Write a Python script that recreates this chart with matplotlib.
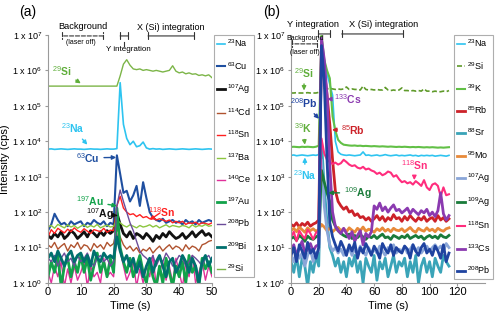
"""
Laser ablation ICP-MS time-resolved signals, two panels.
"""

import numpy as np
import matplotlib
matplotlib.use("Agg")
import matplotlib.pyplot as plt
from matplotlib.ticker import FixedLocator, FuncFormatter, NullLocator

plt.rcParams["font.family"] = ["Liberation Sans", "DejaVu Sans"]
plt.rcParams["mathtext.fontset"] = "custom"
plt.rcParams["mathtext.rm"] = "Liberation Sans"
plt.rcParams["mathtext.it"] = "Liberation Sans:italic"
plt.rcParams["mathtext.bf"] = "Liberation Sans:bold"

# ---------------- panel (a): 1 s steps, 0..50 s ----------------
time_a = np.arange(0, 51, 1)

na_a = [6.0e3, 6.1e3, 5.9e3, 6.0e3, 6.1e3, 6.0e3, 5.9e3, 6.0e3, 6.1e3, 6.0e3,
        6.0e3, 5.9e3, 6.0e3, 6.1e3, 6.0e3, 6.0e3, 5.9e3, 6.0e3, 6.1e3, 6.0e3,
        6.0e3, 6.2e3, 4.5e5, 3.0e4, 1.2e4, 8.0e3, 1.0e4, 7.0e3, 7.5e3, 9.5e3,
        6.5e3, 6.0e3, 6.2e3, 6.0e3, 6.1e3, 5.9e3, 6.0e3, 6.1e3, 6.0e3, 5.9e3,
        6.0e3, 6.1e3, 6.0e3, 5.9e3, 6.0e3, 6.1e3, 6.0e3, 5.9e3, 6.0e3, 6.1e3,
        6.0e3]
cu_a = [30, 45, 90, 60, 45, 50, 40, 55, 45, 50,
        55, 40, 50, 45, 60, 50, 45, 55, 40, 50,
        45, 4.0e3, 1.2e3, 350, 400, 200, 300, 550, 150, 700,
        250, 100, 70, 60, 55, 65, 50, 55, 60, 50,
        55, 45, 60, 50, 55, 45, 60, 50, 55, 60,
        55]
ag107_a = [22, 18, 25, 20, 28, 18, 22, 30, 25, 18,
           22, 28, 20, 30, 25, 20, 28, 22, 30, 25,
           30, 95, 45, 25, 20, 28, 18, 25, 22, 18,
           25, 20, 15, 22, 18, 25, 20, 28, 22, 18,
           20, 25, 18, 22, 28, 20, 25, 30, 22, 25,
           20]
cd114_a = [12, 10, 14, 9, 11, 13, 8, 12, 10, 14,
           9, 12, 11, 8, 13, 10, 12, 9, 14, 11,
           13, 35, 20, 12, 9, 11, 8, 10, 7, 9,
           8, 10, 7, 9, 11, 8, 10, 12, 9, 11,
           10, 8, 12, 9, 11, 10, 8, 12, 13, 15,
           16]
sn118_a = [20, 32, 25, 35, 30, 26, 33, 28, 36, 30,
           27, 34, 29, 25, 32, 30, 28, 35, 27, 31,
           30, 150, 280, 130, 100, 85, 90, 75, 85, 70,
           75, 65, 70, 60, 65, 60, 55, 60, 50, 55,
           50, 55, 45, 50, 48, 52, 45, 50, 48, 45,
           50]
ba137_a = [38, 42, 35, 45, 40, 36, 44, 38, 42, 35,
           40, 44, 37, 42, 38, 45, 36, 40, 43, 38,
           40, 60, 50, 42, 38, 44, 40, 36, 42, 38,
           40, 44, 38, 42, 36, 40, 44, 38, 42, 40,
           38, 42, 40, 36, 44, 38, 42, 40, 45, 40,
           42]
ce140_a = [2, 1, 3, 1.5, 4, 0.8, 2.5, 1, 3, 1.2,
           2, 4, 0.8, 3, 1.5, 2, 1, 5, 1.5, 2,
           1.5, 25, 8, 3, 1.2, 2, 4, 0.8, 2.5, 1,
           3, 1.5, 6, 0.8, 2, 4, 1.2, 3, 1, 5,
           2, 0.8, 3.5, 1.5, 6, 1, 2, 4, 1.2, 3,
           1.5]
au197_a = [1.5, 4, 2, 6, 0.8, 3, 5, 1.5, 4, 2,
           6, 2, 5, 1.2, 3, 7, 2, 4, 1.5, 5,
           2, 130, 10, 4, 2, 5, 1.5, 3, 6, 2,
           1, 4, 1.5, 0.8, 3, 1, 5, 2, 0.8, 3,
           1.5, 4, 1, 6, 2, 3, 0.8, 5, 2.5, 4,
           2]
pb208_a = [5, 4, 6, 3, 5, 7, 4, 5, 3, 6,
           4, 5, 7, 4, 3, 5, 6, 4, 5, 3,
           4, 150, 420, 200, 100, 50, 30, 15, 8, 6,
           5, 4, 6, 3, 5, 4, 7, 5, 3, 4,
           6, 5, 3, 4, 6, 5, 4, 3, 5, 6,
           4]
bi209_a = [5, 7, 4, 8, 5, 3, 6, 8, 4, 6,
           7, 4, 6, 3, 8, 5, 4, 7, 5, 6,
           5, 20, 8, 4, 6, 3, 5, 2, 4, 1.5,
           3, 5, 2, 4, 6, 3, 1.5, 4, 5, 2,
           3, 6, 4, 2, 5, 3, 1, 4, 6, 3,
           5]
si29_a = [3.6e5, 3.6e5, 3.6e5, 3.6e5, 3.6e5, 3.6e5, 3.6e5, 3.6e5, 3.6e5, 3.6e5,
          3.6e5, 3.6e5, 3.6e5, 3.6e5, 3.6e5, 3.6e5, 3.6e5, 3.6e5, 3.6e5, 3.6e5,
          3.6e5, 3.6e5, 7.0e5, 1.5e6, 2.0e6, 1.4e6, 1.1e6, 1.05e6, 1.1e6, 1.0e6,
          1.05e6, 1.0e6, 0.95e6, 1.0e6, 0.95e6, 0.9e6, 0.95e6, 1.0e6, 1.35e6, 0.95e6,
          0.85e6, 0.9e6, 0.8e6, 0.85e6, 0.78e6, 0.8e6, 0.72e6, 0.75e6, 0.7e6, 0.75e6,
          0.62e6]

series_a = [
    (r"$^{23}$Na", na_a, "#2ec4f0", 1.2, "-"),
    (r"$^{63}$Cu", cu_a, "#1f4fa0", 1.5, "-"),
    (r"$^{107}$Ag", ag107_a, "#111111", 2.0, "-"),
    (r"$^{114}$Cd", cd114_a, "#b0532f", 1.0, "-"),
    (r"$^{118}$Sn", sn118_a, "#ff2020", 1.0, "-"),
    (r"$^{137}$Ba", ba137_a, "#8cc63f", 1.0, "-"),
    (r"$^{140}$Ce", ce140_a, "#e0309a", 1.0, "-"),
    (r"$^{197}$Au", au197_a, "#12a24a", 2.0, "-"),
    (r"$^{208}$Pb", pb208_a, "#6b4c9a", 1.0, "-"),
    (r"$^{209}$Bi", bi209_a, "#00706e", 2.0, "-"),
    (r"$^{29}$Si", si29_a, "#7cb548", 1.0, "-"),
]

# ---------------- panel (b): 2 s steps, 0..114 s ----------------
time_b = np.arange(0, 116, 2)

na_b = [4.0e3, 4.1e3, 3.9e3, 4.0e3, 4.1e3, 4.0e3, 3.9e3, 4.0e3, 4.1e3, 4.0e3,
        4.2e3, 5.0e6, 2.0e6, 8.0e5, 4.0e5, 2.0e5, 1.0e4, 5.0e3, 4.3e3, 4.1e3,
        4.0e3, 4.1e3, 4.0e3, 3.9e3, 4.0e3, 4.1e3, 5.0e3, 4.0e3, 4.1e3, 3.9e3,
        4.0e3, 4.1e3, 3.9e3, 4.0e3, 4.2e3, 4.0e3, 3.9e3, 4.0e3, 4.1e3, 3.9e3,
        4.0e3, 3.9e3, 4.0e3, 4.1e3, 3.9e3, 4.0e3, 3.8e3, 4.0e3, 3.9e3, 4.0e3,
        3.9e3, 4.0e3, 3.8e3, 3.9e3, 4.0e3, 3.9e3, 3.8e3, 4.0e3]
si29_b = [2.3e5, 2.3e5, 2.35e5, 2.3e5, 2.3e5, 2.3e5, 2.35e5, 2.3e5, 2.3e5, 2.3e5,
          2.4e5, 3.6e5, 3.2e5, 3.0e5, 3.1e5, 3.0e5, 2.9e5, 3.0e5, 2.9e5, 3.0e5,
          3.4e5, 2.9e5, 3.0e5, 2.9e5, 2.9e5, 2.8e5, 3.6e5, 2.9e5, 2.8e5, 2.9e5,
          2.8e5, 2.9e5, 2.8e5, 2.8e5, 3.3e5, 2.8e5, 2.7e5, 2.8e5, 2.7e5, 2.8e5,
          3.2e5, 2.7e5, 2.7e5, 2.6e5, 2.7e5, 2.6e5, 2.7e5, 2.6e5, 3.0e5, 2.6e5,
          2.6e5, 2.5e5, 2.6e5, 2.5e5, 2.5e5, 2.6e5, 2.5e5, 2.7e5]
k39_b = [6.9e3, 7.0e3, 6.9e3, 6.8e3, 7.0e3, 6.9e3, 7.0e3, 6.9e3, 6.8e3, 7.0e3,
         7.5e3, 1.0e7, 2.0e6, 1.0e6, 6.0e5, 5.0e4, 2.0e4, 1.1e4, 9.0e3, 8.0e3,
         7.8e3, 7.6e3, 7.5e3, 7.6e3, 7.4e3, 7.5e3, 7.3e3, 7.4e3, 7.3e3, 7.2e3,
         7.3e3, 7.2e3, 7.1e3, 7.2e3, 7.1e3, 7.0e3, 7.1e3, 7.0e3, 6.9e3, 7.0e3,
         6.9e3, 7.0e3, 6.9e3, 6.8e3, 6.9e3, 6.8e3, 6.9e3, 6.8e3, 6.7e3, 6.8e3,
         6.7e3, 6.8e3, 6.7e3, 6.6e3, 6.7e3, 6.6e3, 6.7e3, 6.8e3]
rb85_b = [45, 40, 50, 38, 48, 42, 52, 40, 46, 50,
          60, 5.0e6, 1.0e6, 2.0e5, 3.0e4, 3.0e3, 400, 200, 150, 120,
          140, 100, 110, 80, 90, 70, 75, 60, 70, 55,
          65, 80, 60, 75, 55, 70, 60, 85, 65, 70,
          55, 75, 60, 80, 65, 55, 70, 60, 75, 55,
          65, 70, 55, 80, 60, 70, 55, 65]
sr88_b = [4, 2, 6, 1.5, 5, 3, 0.8, 4, 2, 6,
          3, 1.0e4, 500, 50, 10, 6, 3, 5, 2, 4,
          1.5, 5, 3, 6, 2, 4, 1, 5, 3, 2,
          6, 1.2, 4, 2.5, 5, 1.5, 3, 6, 2, 4,
          3, 5, 1.5, 4, 2, 6, 1, 3, 5, 2,
          4, 1.5, 5, 3, 2, 6, 4, 3]
mo95_b = [30, 35, 28, 38, 32, 27, 36, 30, 34, 29,
          32, 45, 38, 30, 35, 28, 33, 37, 30, 34,
          28, 36, 31, 27, 35, 30, 38, 29, 33, 31,
          27, 34, 30, 36, 29, 33, 28, 35, 31, 30,
          34, 28, 32, 37, 30, 27, 35, 31, 29, 36,
          30, 33, 28, 35, 31, 29, 34, 36]
ag107_b = [6, 4, 8, 5, 7, 3, 6, 9, 4, 7,
           8, 3.0e3, 150, 30, 12, 8, 10, 7, 9, 6,
           8, 10, 6, 9, 7, 11, 8, 6, 10, 7,
           9, 7, 11, 8, 6, 10, 8, 12, 7, 9,
           8, 11, 7, 9, 12, 8, 10, 7, 9, 11,
           8, 10, 12, 9, 11, 8, 13, 10]
ag109_b = [18, 20, 16, 22, 19, 15, 21, 18, 17, 20,
           22, 1.5e3, 700, 350, 200, 60, 40, 30, 25, 22,
           20, 24, 18, 22, 19, 23, 20, 17, 21, 19,
           22, 18, 21, 24, 19, 20, 17, 22, 20, 18,
           21, 19, 23, 18, 20, 22, 19, 21, 17, 20,
           22, 19, 21, 18, 23, 20, 19, 22]
sn118_b = [20, 28, 15, 30, 22, 18, 32, 25, 17, 26,
           30, 1.2e4, 4.5e3, 3.0e3, 2.6e3, 2.3e3, 2.5e3, 2.2e3, 2.4e3, 3.0e3,
           2.6e3, 2.2e3, 2.0e3, 2.1e3, 1.8e3, 1.7e3, 1.9e3, 1.6e3, 1.7e3, 1.5e3,
           1.4e3, 1.2e3, 1.3e3, 1.1e3, 1.2e3, 1.4e3, 1.3e3, 1.0e3, 1.1e3, 850,
           700, 750, 650, 700, 600, 750, 650, 550, 800, 500,
           420, 600, 650, 550, 280, 500, 300, 320]
cs133_b = [8, 12, 6, 10, 15, 7, 9, 13, 8, 11,
           12, 8.0e6, 2.0e6, 2.0e5, 2.0e3, 100, 40, 30, 25, 35,
           25, 18, 28, 15, 22, 30, 12, 25, 20, 28,
           150, 120, 180, 110, 140, 100, 130, 160, 110, 120,
           95, 110, 130, 90, 120, 100, 85, 110, 95, 120,
           80, 100, 75, 110, 350, 90, 60, 80]
pb208_b = [6, 10, 4, 12, 8, 5, 14, 7, 9, 5,
           10, 5.0e6, 5.0e5, 3.0e3, 50, 20, 12, 8, 15, 10,
           6, 12, 8, 14, 5, 10, 7, 13, 9, 6,
           11, 8, 5, 13, 9, 7, 12, 6, 10, 8,
           7, 11, 9, 5, 12, 8, 6, 10, 13, 7,
           9, 6, 11, 8, 5, 12, 4, 7]

series_b = [
    (r"$^{23}$Na", na_b, "#2ec4f0", 1.2, "-"),
    (r"$^{29}$Si", si29_b, "#5f9a2a", 1.2, (0, (3, 1.5))),
    (r"$^{39}$K", k39_b, "#62c046", 1.5, "-"),
    (r"$^{85}$Rb", rb85_b, "#cc2229", 2.0, "-"),
    (r"$^{88}$Sr", sr88_b, "#3aa4b8", 2.0, "-"),
    (r"$^{95}$Mo", mo95_b, "#e88a3a", 2.0, "-"),
    (r"$^{107}$Ag", ag107_b, "#8aa6d8", 2.0, "-"),
    (r"$^{109}$Ag", ag109_b, "#1a7b3a", 2.0, "-"),
    (r"$^{118}$Sn", sn118_b, "#ff2d7d", 1.5, "-"),
    (r"$^{133}$Cs", cs133_b, "#8b3ab0", 2.0, "-"),
    (r"$^{208}$Pb", pb208_b, "#1f43a0", 2.0, "-"),
]

decades = [1e0, 1e1, 1e2, 1e3, 1e4, 1e5, 1e6, 1e7]
SPINE = "#9a9a9a"


def style_axis(ax, xlim, xticks):
    ax.set_yscale("log")
    ax.set_ylim(1, 1e7)
    ax.set_xlim(*xlim)
    ax.yaxis.set_major_locator(FixedLocator(decades))
    ax.yaxis.set_minor_locator(NullLocator())
    ax.yaxis.set_major_formatter(
        FuncFormatter(lambda v, p: r"1 x 10$^{%d}$" % round(np.log10(v))))
    ax.set_xticks(xticks)
    ax.tick_params(axis="y", labelsize=6.5, length=2, color=SPINE, pad=2)
    ax.tick_params(axis="x", labelsize=8, length=2, color=SPINE, pad=1)
    for side in ("top", "right"):
        ax.spines[side].set_visible(False)
    for side in ("left", "bottom"):
        ax.spines[side].set_color(SPINE)
        ax.spines[side].set_linewidth(0.8)
    ax.set_xlabel("Time (s)", fontsize=8, labelpad=3)


def bracket(ax, x0, x1, y, dashed=False):
    ax.annotate("", xy=(x0, y), xytext=(x1, y),
                xycoords=ax.get_xaxis_transform(),
                textcoords=ax.get_xaxis_transform(),
                arrowprops=dict(arrowstyle="|-|", lw=0.8, color="#333333",
                                mutation_scale=2.5,
                                linestyle="--" if dashed else "-",
                                shrinkA=0, shrinkB=0),
                annotation_clip=False)


def label_arrow(ax, text, xy, xytext, color, size=7.5):
    ax.annotate(text, xy=xy, xytext=xytext, color=color, fontsize=size,
                fontweight="bold", ha="center", va="center",
                arrowprops=dict(arrowstyle="-|>", color=color, lw=1.0,
                                mutation_scale=6, shrinkA=1, shrinkB=0))


fig = plt.figure(figsize=(5, 3.14), dpi=100)
ax_a = fig.add_axes([0.096, 0.0987, 0.328, 0.79])
ax_b = fig.add_axes([0.582, 0.0987, 0.388, 0.79])

for name, vals, color, lw, ls in series_a:
    ax_a.plot(time_a, vals, color=color, lw=lw, ls=ls, label=name)
for name, vals, color, lw, ls in series_b:
    ax_b.plot(time_b, vals, color=color, lw=lw, ls=ls, label=name)

style_axis(ax_a, (0, 50), [0, 10, 20, 30, 40, 50])
style_axis(ax_b, (0, 140), [0, 20, 40, 60, 80, 100, 120])
ax_a.set_ylabel("Intensity (cps)", fontsize=8, labelpad=2)

leg_kw = dict(loc="upper left", borderaxespad=0, fancybox=False,
              edgecolor=SPINE, fontsize=6.5, handlelength=0.95,
              handletextpad=0.2, labelspacing=1.17, borderpad=0.3)
leg_a = ax_a.legend(bbox_to_anchor=(1.012, 1.0), **leg_kw)
leg_b = ax_b.legend(bbox_to_anchor=(0.84, 1.0), **leg_kw)
for leg in (leg_a, leg_b):
    leg.get_frame().set_linewidth(0.8)

# panel (a) annotations
label_arrow(ax_a, r"$^{29}$Si", (10, 4.3e5), (4.3, 9.6e5), "#5fae3a")
label_arrow(ax_a, r"$^{23}$Na", (12, 8e3), (7.6, 2.3e4), "#2ec4f0")
label_arrow(ax_a, r"$^{63}$Cu", (20.8, 3.5e3), (12.2, 3.4e3), "#1f4fa0")
label_arrow(ax_a, r"$^{118}$Sn", (31, 60), (34.5, 100), "#ff2020")
label_arrow(ax_a, r"$^{197}$Au", (21, 150), (12.8, 200), "#12a24a")
label_arrow(ax_a, r"$^{107}$Ag", (21.2, 80), (15.8, 88), "#111111")

bracket(ax_a, 4.3, 16.8, 0.996, dashed=True)
bracket(ax_a, 22, 24.4, 0.996)
bracket(ax_a, 30.5, 44.5, 0.996)
tr_a = ax_a.get_xaxis_transform()
ax_a.text(10.5, 1.036, "Background", transform=tr_a, fontsize=6.7,
          ha="center", va="center")
ax_a.text(10, 0.968, "(laser off)", transform=tr_a, fontsize=5,
          ha="center", va="center")
ax_a.plot([23.2, 23.2], [0.955, 0.972], transform=tr_a, color="#333333",
          lw=0.8, clip_on=False)
ax_a.text(24.5, 0.94, "Y integration", transform=tr_a, fontsize=5.8,
          ha="center", va="center")
ax_a.text(37.5, 1.032, "X (Si) integration", transform=tr_a, fontsize=6.5,
          ha="center", va="center")

# panel (b) annotations
label_arrow(ax_b, r"$^{29}$Si", (9.4, 2.7e5), (9.4, 8.5e5), "#5fae3a")
label_arrow(ax_b, r"$^{208}$Pb", (20.2, 4.3e4), (9.4, 1.2e5), "#1f43a0")
label_arrow(ax_b, r"$^{39}$K", (10, 8e3), (8.7, 2.3e4), "#5fae3a")
label_arrow(ax_b, r"$^{23}$Na", (10, 3.5e3), (10, 1.1e3), "#2ec4f0")
label_arrow(ax_b, r"$^{133}$Cs", (26, 1.55e5), (41, 1.55e5), "#8b3ab0")
label_arrow(ax_b, r"$^{85}$Rb", (29.6, 2.1e4), (45, 2.1e4), "#cc2229")
label_arrow(ax_b, r"$^{118}$Sn", (89, 800), (89, 2.1e3), "#ff2d7d")
label_arrow(ax_b, r"$^{109}$Ag", (27, 350), (48, 350), "#1a7b3a")

bracket(ax_b, 1, 18.5, 0.964, dashed=True)
bracket(ax_b, 19.8, 28.2, 1.004)
bracket(ax_b, 36.6, 80.7, 1.004)
tr_b = ax_b.get_xaxis_transform()
ax_b.text(10, 0.984, "Background", transform=tr_b, fontsize=5,
          ha="center", va="center")
ax_b.text(10, 0.931, "(laser off)", transform=tr_b, fontsize=5,
          ha="center", va="center")
ax_b.text(16, 1.044, "Y integration", transform=tr_b, fontsize=6.7,
          ha="center", va="center")
ax_b.text(66.7, 1.044, "X (Si) integration", transform=tr_b, fontsize=6.7,
          ha="center", va="center")

fig.text(28 / 500, 1 - 12 / 314, "(a)", fontsize=10, ha="center", va="center")
fig.text(272 / 500, 1 - 12 / 314, "(b)", fontsize=10, ha="center", va="center")

fig.savefig("out.png", dpi=100)
